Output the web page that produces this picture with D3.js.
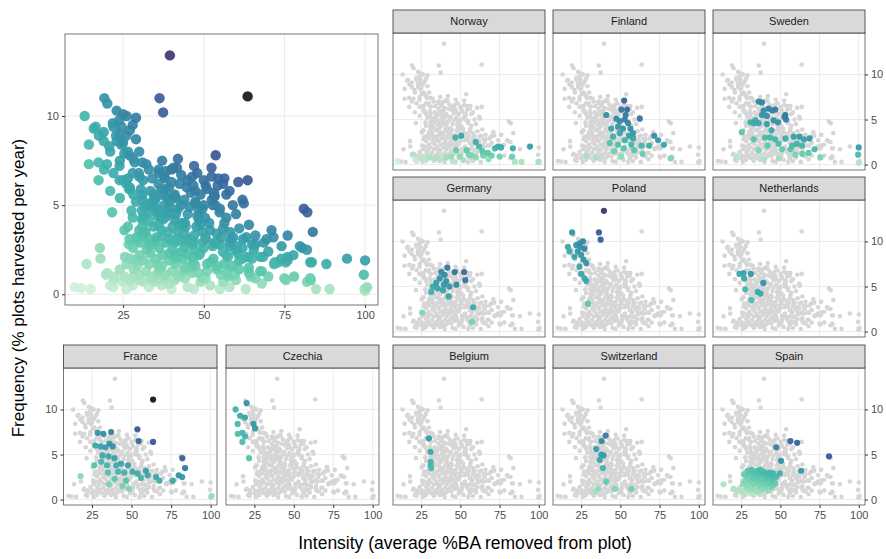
<!DOCTYPE html>
<html>
<head>
<meta charset="utf-8">
<script src="https://cdn.jsdelivr.net/npm/d3@7"></script>
<style>
  body { margin: 0; background: #fff; }
  svg text { font-family: "Liberation Sans", Arial, Helvetica, sans-serif; }
</style>
</head>
<body>
<div id="chart"></div>
<script>
// [intensity (%BA removed), frequency (% plots harvested per year)]
const norway = [[46.8,3.0],[50.6,3.2],[59.8,2.5],[62,2.0],[72,1.8],[74,2.0],[76,1.9],[83.5,1.8],[94.4,2.0],[83,0.9],
  [64,1.5],[67.5,1.3],[54,1.6],[47.4,1.6],[55.3,1.1],[57.6,1.0],[70,1.0],[75,0.9],[10,0.4],[19.7,1.1],
  [25,0.7],[34.6,0.7],[41,0.8],[49.6,0.9],[60,0.8],[64.5,1.0],[84.8,0.3],[89,0.3],[99.8,0.3],[44.2,0.9],
  [30.3,0.8],[22,0.4],[37,0.5],[52,0.5],[68,0.6],[28,0.5],[45,0.4]];
const finland = [[52.4,7.1],[50.6,6.1],[54.3,6.1],[53.4,5.5],[62.4,5.1],[41,5.5],[47.4,5.1],[49.6,4.8],[52.8,5.0],[54.9,4.6],
  [48.5,4.2],[51.7,4.0],[56.4,4.0],[44.2,4.0],[58.1,3.5],[49.6,3.5],[45.3,3.1],[52.8,2.7],[58.1,2.9],[43.2,2.4],
  [48.5,2.2],[57,2.2],[63.5,2.1],[68.4,2.1],[71.6,3.2],[74.1,2.7],[77.8,2.2],[52.1,1.8],[58.8,1.6],[64.1,1.2],
  [28.2,1.0],[34.6,0.8],[50.6,0.9],[82,0.7],[46,1.5],[55.5,3.2]];
const sweden = [[36.1,7.0],[38.2,6.9],[42.5,6.2],[44.7,6.0],[46.8,6.1],[39.3,6.0],[38.2,5.5],[41.4,5.4],[53.2,5.5],[53.6,5.0],
  [52.5,5.3],[34,4.9],[30.8,4.7],[33,4.6],[36.1,4.6],[41.4,4.5],[45.7,4.9],[48.5,4.7],[25.4,3.6],[44.4,3.8],
  [43.4,3.0],[40.2,3.0],[46.6,2.8],[53.2,2.9],[58.5,3.1],[62.2,3.1],[65,2.8],[68.6,2.9],[48.9,2.3],[57.5,2.1],
  [60.5,2.3],[41.8,2.1],[51,1.7],[56.4,1.7],[63.8,2.1],[68,1.3],[71.8,1.7],[75.5,0.8],[100,1.9],[99.6,1.1],
  [100,0.2],[22.2,0.8],[39.3,0.6],[49,0.7],[59.6,1.1],[64,1.2],[36,1.6],[33,2.8]];
const germany = [[41.7,7.1],[46.4,6.6],[52.4,6.6],[53.2,5.7],[47.4,5.2],[37.8,6.6],[40,6.3],[36.8,5.9],[41,5.6],[34.6,5.4],
  [32.5,5.0],[35.5,4.8],[38.9,4.6],[31.4,4.4],[42.5,3.9],[58.1,2.7],[25.6,2.1],[57.4,1.1],[43,5.0],[39.5,5.2]];
const poland = [[39.5,13.4],[36.3,11.0],[37.4,10.2],[19.2,11.0],[26.1,10.0],[23.9,9.8],[21.8,9.6],[16.5,9.4],[27.1,9.2],[22.8,8.9],
  [17.5,8.9],[25,8.5],[20.7,8.3],[28.2,7.6],[23.9,7.2],[25,6.4],[27.1,5.9],[28.2,5.6],[29.3,3.1],[24.5,9.4],[26.5,8.0]];
const netherlands = [[23.9,6.4],[26.5,6.5],[31.2,6.4],[26.9,5.9],[39.1,5.4],[27.6,4.7],[35.6,4.4],[37.4,4.2],[31.6,3.5]];
const france = [[63.6,11.1],[53.7,7.8],[37.1,7.5],[28.6,7.4],[32.2,7.3],[54.5,6.5],[63.6,6.4],[27.1,6.0],[30.5,5.9],[36,6.2],
  [38.1,5.9],[33.5,5.8],[82.1,4.6],[83.8,3.5],[31.6,4.9],[35.5,4.8],[39.2,4.6],[26.5,3.8],[30.8,4.2],[34.5,3.8],
  [40.3,3.8],[43.4,4.0],[47.7,3.8],[35.1,3.0],[41.5,3.1],[45.4,3.0],[50.6,3.1],[53.8,2.9],[59.1,3.2],[60.2,2.7],
  [55.9,2.4],[65.5,2.5],[67.6,2.1],[76,2.1],[79.8,2.7],[82,2.5],[39.3,2.3],[46.5,2.1],[17.8,2.6],[35.7,1.7],
  [44.2,1.5],[48.4,1.2],[100.6,0.4]];
const czechia = [[20.1,10.7],[13.1,10.0],[15.9,9.3],[19,9.1],[24.4,8.4],[25.4,7.9],[14.4,8.4],[14.4,7.3],[17.4,7.4],[19.1,7.0],
  [17.4,6.4],[21.6,4.6]];
const belgium = [[29.9,6.8],[31,5.3],[31,4.2],[31,3.8],[31.4,3.5]];
const switzerland = [[40.6,7.1],[38,6.5],[34.6,5.6],[37.8,5.0],[39.3,4.9],[36.8,4.4],[38.9,3.5],[41,2.0],[35.7,1.2],[46.4,1.2],
  [57,1.2],[33.5,0.9]];
const spain = [[56.4,6.5],[60.7,6.3],[47.4,5.8],[81,4.8],[50.4,4.3],[63.2,3.2],[49.6,2.9],
  [29.2,3.2],[31.4,3.3],[33.2,3.1],[35.4,3.2],[37.1,3.3],[39.3,3.1],[26.8,2.8],[30.3,2.9],[34.1,2.8],[38.2,2.9],
  [41.1,2.9],[43.2,3.0],[45.3,2.9],[28.1,2.6],[32.3,2.5],[36.2,2.6],[40.3,2.5],[44.1,2.6],[47.2,2.5],[30.1,2.2],
  [33.4,2.3],[37.3,2.2],[41.2,2.3],[45.1,2.2],[27.3,2.0],[31.2,1.9],[35.1,2.0],[39.2,1.9],[43.3,2.0],[46.8,1.8],
  [26.1,1.7],[29.3,1.6],[33.2,1.7],[37.1,1.6],[41.3,1.7],[45.2,1.6],[28.3,1.4],[32.1,1.3],[36.4,1.4],[40.2,1.3],
  [44.3,1.4],[25.4,1.0],[30.2,1.1],[34.3,1.0],[38.1,1.1],[42.2,1.0],[27.2,0.8],[31.3,0.7],[36.2,0.8],[13.7,1.7],
  [20.1,1.2],[22.3,1.0]];
// plots from countries without their own panel
const other = [[12,0.35],[15,0.3],[21,0.5],[26,0.3],[33,0.4],[40,0.3],[47,0.3],[55,0.3],[58,0.4],[63,0.3],
  [24,1.4],[18,2.0],[29,1.9],[38,0.9],[43,1.2],[51,1.3],[56,0.7],[61,1.4],[66,0.9],[53,2.0],
  [22,9.4],[24,9.0],[28,9.5],[23,8.6],[26,8.9],[29,8.7],[21,8.0],[27,7.8],[30,8.0],[19,8.6],
  [25,10.1],[29,9.9],[31,7.4],[33,7.0],[24,7.5],[22,6.8],[20,7.3],[28,6.8],[30,6.6],[34,6.5],
  [36,6.8],[40,7.0],[43,6.7],[45,6.4],[48,6.8],[50,6.4],[46,5.7],[44,5.3],[49,5.6],[51,5.9],
  [29,5.2],[31,5.6],[33,5.1],[35,5.3],[37,5.6],[42,4.8],[45,4.5],[48,4.4],[50,5.0],[55,4.8],
  [57,5.6],[59,5.0],[62,5.3],[60,4.5],[57,4.3],[28,4.3],[30,3.6],[33,4.1],[36,3.9],[38,4.3],
  [41,4.2],[44,3.4],[47,3.3],[49,3.9],[52,3.6],[54,3.4],[56,3.7],[61,3.7],[64,3.9],[66,3.3],
  [27,3.1],[32,3.5],[37,3.6],[42,3.5],[50,2.6],[55,2.8],[62,2.6],[66,2.8],[69.5,3.1],[70,2.4],
  [73,1.8],[75.4,1.8],[80.5,2.6],[83,1.8],[83.2,0.8],[78,1.0],[88,1.7],[65,2.0],[61,1.9],[54,1.4],
  [71,3.6],[76,3.3],[58,5.8],[56,6.2],[47,7.2],[42,7.6],[23,10.3],[26,6.2],[24,5.4],[21,5.8]];

const countryNames = ["Norway","Finland","Sweden","Germany","Poland","Netherlands","France","Czechia","Belgium","Switzerland","Spain"];
const countryData = [norway, finland, sweden, germany, poland, netherlands, france, czechia, belgium, switzerland, spain];
const xTicks = [25, 50, 75, 100];
const yTicks = [0, 5, 10];

const width = 886, height = 559;
const allPoints = countryData.flat().concat(other);

// mako-like palette (dark -> light)
const mako = d3.interpolateRgbBasis(["#0B0405","#28192F","#3B2F5E","#40498E","#38629D","#357BA2","#3496A9","#3CB1AB","#60CEAC","#A8E1BC","#DEF5E5"]);
const tScale = d3.scalePow().exponent(0.7).domain([0, 780]).range([1, 0]).clamp(true);
const colorOf = (d) => mako(tScale(d[0] * d[1]));
const byValue = (a, b) => a[0] * a[1] - b[0] * b[1];

const svg = d3.select("#chart").append("svg").attr("width", width).attr("height", height);

function drawPanel(box, opts) {
  const x = d3.scaleLinear().domain([7, 104]).range([box.x0, box.x1]);
  const y = d3.scaleLinear().domain([-0.6, 14.6]).range([box.y1, box.y0]);
  const g = svg.append("g");

  g.append("rect").attr("x", box.x0).attr("y", box.y0)
    .attr("width", box.x1 - box.x0).attr("height", box.y1 - box.y0).attr("fill", "#fff");

  g.selectAll(".gx").data(xTicks).join("line")
    .attr("x1", (d) => x(d)).attr("x2", (d) => x(d))
    .attr("y1", box.y0).attr("y2", box.y1)
    .attr("stroke", "#ebebeb").attr("stroke-width", 1);
  g.selectAll(".gy").data(yTicks).join("line")
    .attr("y1", (d) => y(d)).attr("y2", (d) => y(d))
    .attr("x1", box.x0).attr("x2", box.x1)
    .attr("stroke", "#ebebeb").attr("stroke-width", 1);

  if (opts.highlight) {
    g.selectAll(".bg").data(allPoints).join("circle")
      .attr("cx", (d) => x(d[0])).attr("cy", (d) => y(d[1]))
      .attr("r", 2.3).attr("fill", "#d6d6d6");
    g.selectAll(".fg").data(opts.highlight.slice().sort(byValue)).join("circle")
      .attr("cx", (d) => x(d[0])).attr("cy", (d) => y(d[1]))
      .attr("r", 3.1).attr("fill", colorOf).attr("fill-opacity", 0.95);
  } else {
    g.selectAll(".pt").data(allPoints.slice().sort(byValue)).join("circle")
      .attr("cx", (d) => x(d[0])).attr("cy", (d) => y(d[1]))
      .attr("r", 5.2).attr("fill", colorOf).attr("fill-opacity", 0.92);
  }

  g.append("rect").attr("x", box.x0).attr("y", box.y0)
    .attr("width", box.x1 - box.x0).attr("height", box.y1 - box.y0)
    .attr("fill", "none").attr("stroke", "#555").attr("stroke-width", 0.8);

  if (opts.bottom) {
    const ax = g.append("g").attr("transform", `translate(0,${box.y1})`)
      .call(d3.axisBottom(x).tickValues(xTicks).tickSize(3).tickPadding(3));
    styleAxis(ax);
  }
  if (opts.left) {
    const ay = g.append("g").attr("transform", `translate(${box.x0},0)`)
      .call(d3.axisLeft(y).tickValues(yTicks).tickSize(3).tickPadding(3));
    styleAxis(ay);
  }
  if (opts.right) {
    const ay = g.append("g").attr("transform", `translate(${box.x1},0)`)
      .call(d3.axisRight(y).tickValues(yTicks).tickSize(3).tickPadding(3));
    styleAxis(ay);
  }
  if (opts.title) {
    g.append("rect").attr("x", box.x0).attr("y", box.y0 - 23)
      .attr("width", box.x1 - box.x0).attr("height", 23)
      .attr("fill", "#d9d9d9").attr("stroke", "#333").attr("stroke-width", 0.8);
    g.append("text").attr("x", (box.x0 + box.x1) / 2).attr("y", box.y0 - 11.5)
      .attr("dy", "0.35em").attr("text-anchor", "middle")
      .attr("font-size", 11).attr("fill", "#1a1a1a").text(opts.title);
  }
}

function styleAxis(a) {
  a.select(".domain").remove();
  a.selectAll(".tick line").attr("stroke", "#333");
  a.selectAll(".tick text").attr("font-size", 11).attr("fill", "#4d4d4d");
}

// big overview panel
drawPanel({ x0: 65, x1: 378, y0: 34, y1: 305 }, { left: true, bottom: true });

const cols = [[63.5, 217], [226, 379], [393, 545], [553, 705], [713, 865]];
const rows = [33, 200, 368];
const panelH = 137;
const slots = [[0, 2], [0, 3], [0, 4], [1, 2], [1, 3], [1, 4], [2, 0], [2, 1], [2, 2], [2, 3], [2, 4]];

countryNames.forEach((name, i) => {
  const [r, c] = slots[i];
  const box = { x0: cols[c][0], x1: cols[c][1], y0: rows[r], y1: rows[r] + panelH };
  drawPanel(box, {
    highlight: countryData[i],
    title: name,
    bottom: r === 2,
    left: r === 2 && c === 0,
    right: c === 4
  });
});

svg.append("text").attr("x", 465).attr("y", 549).attr("text-anchor", "middle")
  .attr("font-size", 17.5).attr("fill", "#000").text("Intensity (average %BA removed from plot)");
svg.append("text").attr("transform", "translate(24,288) rotate(-90)").attr("text-anchor", "middle")
  .attr("font-size", 17).attr("fill", "#000").text("Frequency (% plots harvested per year)");
</script>
</body>
</html>
